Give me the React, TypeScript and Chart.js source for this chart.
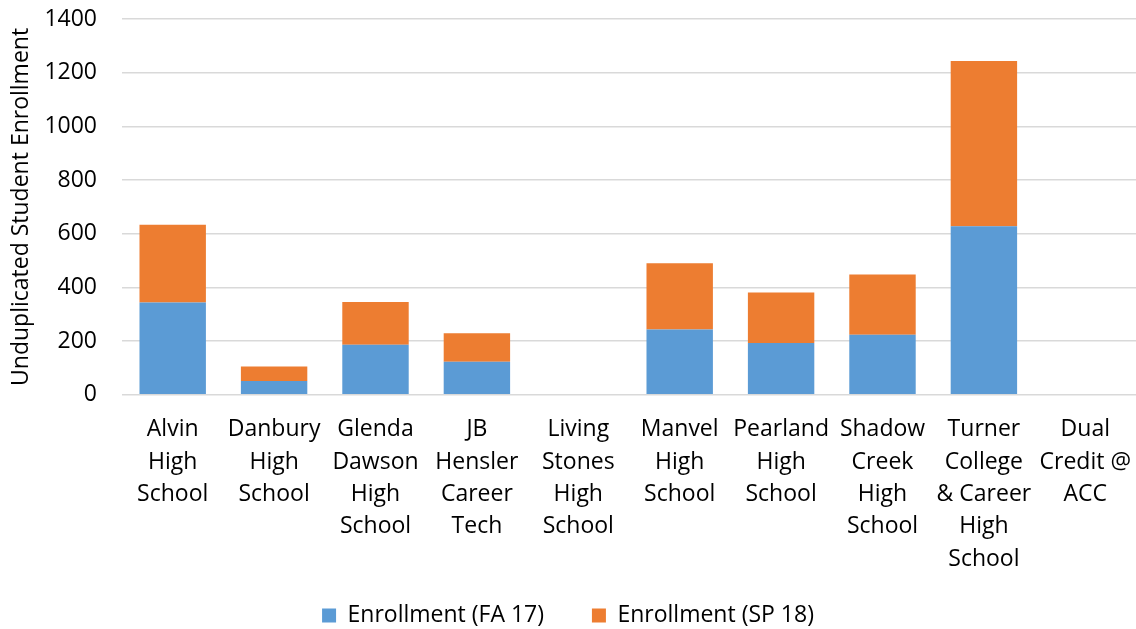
import React, { useEffect, useRef } from "react";
import { Chart, registerables } from "chart.js";

Chart.register(...registerables);

const categories: string[][] = [
  ["Alvin", "High", "School"],
  ["Danbury", "High", "School"],
  ["Glenda", "Dawson", "High", "School"],
  ["JB", "Hensler", "Career", "Tech"],
  ["Living", "Stones", "High", "School"],
  ["Manvel", "High", "School"],
  ["Pearland", "High", "School"],
  ["Shadow", "Creek", "High", "School"],
  ["Turner", "College", "& Career", "High", "School"],
  ["Dual", "Credit @", "ACC"],
];

const fa17: number[] = [344, 52, 187, 123, 0, 243, 193, 224, 628, 0];
const sp18: number[] = [290, 54, 159, 106, 0, 247, 188, 224, 616, 0];

const seriesNames = ["Enrollment (FA 17)", "Enrollment (SP 18)"];
const yTitle = "Unduplicated Student Enrollment";

const FONT = "'Open Sans', sans-serif";

export default function App() {
  const ref = useRef<HTMLCanvasElement | null>(null);

  useEffect(() => {
    document.body.style.margin = "0";
    if (!ref.current) return;
    const chart = new Chart(ref.current, {
      type: "bar",
      data: {
        labels: categories,
        datasets: [
          {
            label: seriesNames[0],
            data: fa17,
            backgroundColor: "#5B9BD5",
            borderWidth: 0,
            categoryPercentage: 1,
            barPercentage: 0.655,
          },
          {
            label: seriesNames[1],
            data: sp18,
            backgroundColor: "#ED7D31",
            borderWidth: 0,
            categoryPercentage: 1,
            barPercentage: 0.655,
          },
        ],
      },
      options: {
        responsive: false,
        animation: false,
        layout: { padding: { top: 19, right: 0, bottom: 0, left: 0 } },
        plugins: {
          legend: {
            position: "bottom",
            labels: {
              boxWidth: 14,
              boxHeight: 14,
              padding: 18,
              color: "#000",
              font: { family: FONT, size: 23 },
              generateLabels: (c: any) => {
                const items = Chart.defaults.plugins.legend.labels.generateLabels(c);
                items.forEach((it: any, i: number) => {
                  if (i === 0) it.text = it.text + "     ";
                });
                return items;
              },
            },
          },
          tooltip: { enabled: false },
        },
        scales: {
          x: {
            stacked: true,
            grid: { display: false },
            border: { display: false },
            ticks: {
              color: "#000",
              font: { family: FONT, size: 23, lineHeight: 1.41 },
              maxRotation: 0,
              autoSkip: false,
              padding: 10.5,
            },
            afterFit: (scale: any) => {
              scale.paddingLeft = 0;
              scale.paddingRight = 0;
            },
          },
          y: {
            stacked: true,
            min: 0,
            max: 1400,
            border: { display: false },
            grid: { color: "#d9d9d9", lineWidth: 1.5, drawTicks: false },
            ticks: {
              stepSize: 200,
              color: "#000",
              font: { family: FONT, size: 23 },
              padding: 25,
              callback: (v: any) => String(v),
            },
            title: {
              display: true,
              text: yTitle,
              color: "#000",
              font: { family: FONT, size: 23 },
              padding: { top: 8, bottom: 0 },
            },
            afterFit: (scale: any) => {
              scale.width = 122;
              scale.paddingTop = 0;
              scale.paddingBottom = 0;
            },
          },
        },
      },
    });
    return () => chart.destroy();
  }, []);

  return (
    <div style={{ position: "absolute", left: 0, top: 0, width: 1136, height: 629, overflow: "hidden" }}>
      <canvas ref={ref} width={1136} height={637} style={{ display: "block" }} />
    </div>
  );
}
